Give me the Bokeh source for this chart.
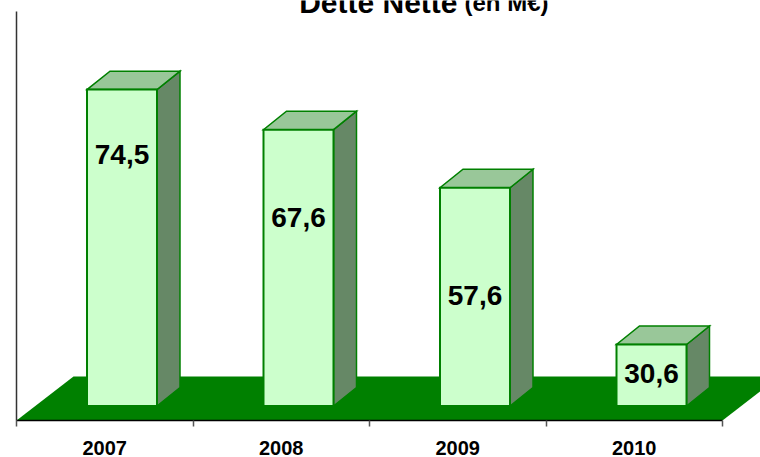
from bokeh.plotting import figure
from bokeh.models import Range1d, FixedTicker, ColumnDataSource
from bokeh.core.properties import value
from bokeh.embed import file_html
from bokeh.resources import INLINE

# ---- data ----
years = ["2007", "2008", "2009", "2010"]
dette = [74.5, 67.6, 57.6, 30.6]
labels = ["74,5", "67,6", "57,6", "30,6"]
axis_min = 20.0
title_main = "Dette Nette"
title_unit = "(en M€)"

# ---- layout / style constants (pixels) ----
W, H = 760, 457
FRAME_LEFT, FRAME_BOTTOM = 16, 421
PX_X = 176.5          # pixels per category
PX_Y = 5.82           # pixels per value unit
BASE_PX = 406.5       # pixel row of bar base (front)
BAR_LEFT_OFF = 70.5   # px from category start to bar front left
BAR_W = 70.0          # px
BAR_DX, BAR_DY = 23.0, 18.5
FLOOR_DX, FLOOR_DY = 57.0, 44.0
LABEL_DROP_PX = [65, 88, 108, 29]   # label centre below bar top
TITLE_ROW_PX = 2.5

FONT = "Liberation Sans"
GREEN = "#008000"
FRONT = "#CCFFCC"
TOP = "#99C799"
SIDE = "#668866"

y_start = axis_min - (FRAME_BOTTOM - BASE_PX) / PX_Y
y_end = y_start + FRAME_BOTTOM / PX_Y
x_end = (W - FRAME_LEFT) / PX_X

def ux(px):
    return px / PX_X

def uy(px):
    return px / PX_Y

p = figure(width=W, height=H, output_backend="svg", toolbar_location=None,
           x_range=Range1d(0, x_end), y_range=Range1d(y_start, y_end),
           min_border_left=FRAME_LEFT, min_border_right=0, min_border_top=0,
           min_border_bottom=H - FRAME_BOTTOM)
p.styles = {"position": "absolute", "top": "0px", "left": "0px"}
p.outline_line_color = None
p.xgrid.grid_line_color = None
p.ygrid.grid_line_color = None
p.background_fill_color = "white"
p.border_fill_color = "white"

n = len(years)

# floor
p.patch([0, n, n + ux(FLOOR_DX), ux(FLOOR_DX)],
        [y_start, y_start, y_start + uy(FLOOR_DY), y_start + uy(FLOOR_DY)],
        fill_color=GREEN, line_color=None)

# bars
xl = [i + ux(BAR_LEFT_OFF) for i in range(n)]
xr = [x + ux(BAR_W) for x in xl]
ddx, ddy = ux(BAR_DX), uy(BAR_DY)

side_xs = [[r, r + ddx, r + ddx, r] for r in xr]
side_ys = [[axis_min, axis_min + ddy, v + ddy, v] for v in dette]
top_xs = [[l, r, r + ddx, l + ddx] for l, r in zip(xl, xr)]
top_ys = [[v, v, v + ddy, v + ddy] for v in dette]

p.patches(side_xs, side_ys, fill_color=SIDE, line_color=GREEN, line_width=1.5,
          line_join="miter")
p.patches(top_xs, top_ys, fill_color=TOP, line_color=GREEN, line_width=1.5,
          line_join="miter")
src = ColumnDataSource(dict(left=xl, right=xr, top=dette,
                            bottom=[axis_min] * n, label=labels,
                            cx=[(l + r) / 2 for l, r in zip(xl, xr)],
                            ly=[v - uy(d) for v, d in zip(dette, LABEL_DROP_PX)]))
p.quad(left="left", right="right", top="top", bottom="bottom", source=src,
       fill_color=FRONT, line_color=GREEN, line_width=2, line_join="miter")
p.text(x="cx", y="ly", text="label", source=src, text_align="center",
       text_baseline="middle", text_font=value(FONT), text_font_style="bold",
       text_font_size="28px", text_color="black")

# title (clipped at the top as in the original)
p.text(x=[ux(457 - FRAME_LEFT)], y=[y_end - uy(TITLE_ROW_PX)], text=[title_main],
       text_align="right", text_baseline="alphabetic", text_font=value(FONT),
       text_font_style="bold", text_font_size="30px", text_color="black")
p.text(x=[ux(464 - FRAME_LEFT)], y=[y_end - uy(TITLE_ROW_PX)], text=[title_unit],
       text_align="left", text_baseline="alphabetic", text_font=value(FONT),
       text_font_style="bold", text_font_size="24px", text_color="black")

# axes
xa = p.xaxis[0]
xa.ticker = FixedTicker(ticks=[i + 0.5 for i in range(n)],
                        minor_ticks=list(range(n + 1)))
xa.major_label_overrides = {i + 0.5: y for i, y in enumerate(years)}
xa.bounds = (0, n)
xa.axis_line_color = "black"
xa.axis_line_width = 1.5
xa.major_tick_line_color = None
xa.major_tick_out = 0
xa.major_tick_in = 0
xa.minor_tick_line_color = "#555555"
xa.minor_tick_line_width = 1.5
xa.minor_tick_out = 6
xa.minor_tick_in = 0
xa.major_label_text_font = FONT
xa.major_label_text_font_style = "bold"
xa.major_label_text_font_size = "20px"
xa.major_label_text_color = "black"
xa.major_label_standoff = 14

ya = p.yaxis[0]
ya.ticker = FixedTicker(ticks=[])
ya.bounds = (y_start, y_end - uy(11))
ya.axis_line_color = "#333333"
ya.axis_line_width = 1.5
ya.major_tick_line_color = None
ya.minor_tick_line_color = None
ya.major_tick_out = 0
ya.major_tick_in = 0
ya.minor_tick_out = 0
ya.major_label_standoff = 0

open("out.html", "w").write(file_html(p, INLINE))
